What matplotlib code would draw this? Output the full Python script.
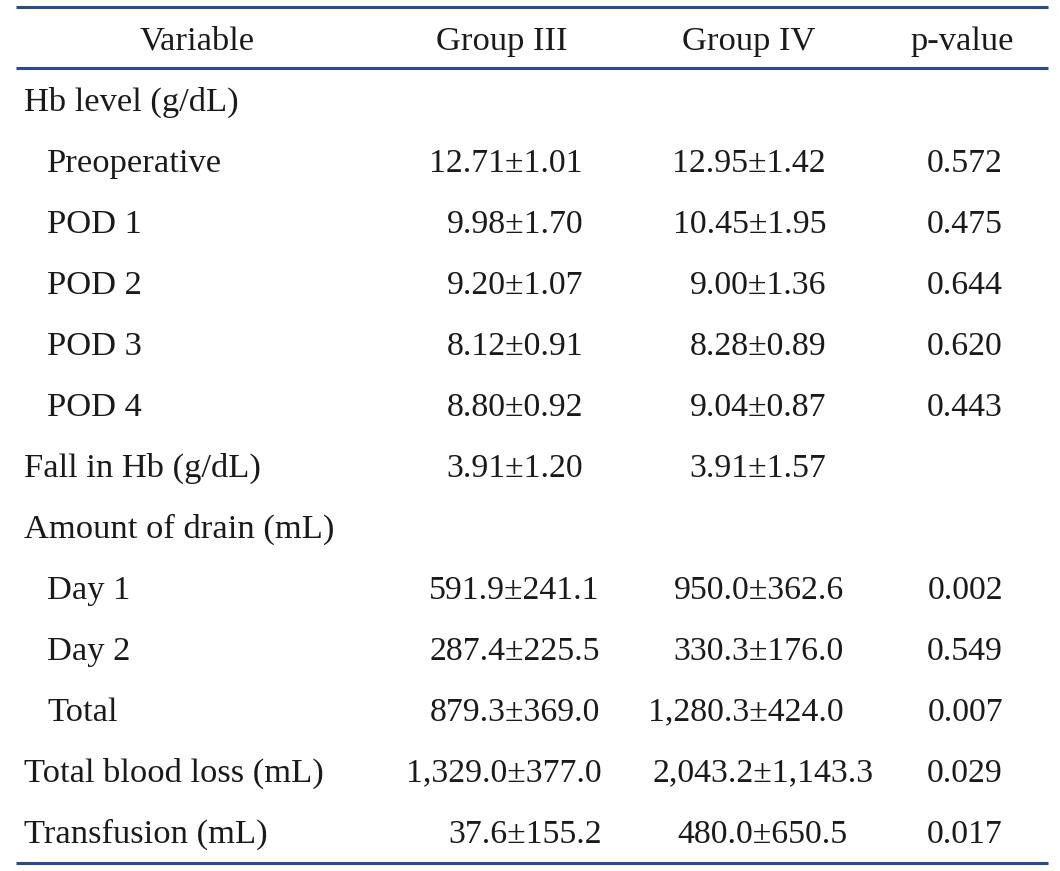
#!/usr/bin/env python3
"""
Hb level / blood loss comparison table, Group III vs Group IV -> out.png
"""
import matplotlib.pyplot as plt

HEADERS = ["Variable", "Group III", "Group IV", "p-value"]

labels = [
    "Hb level (g/dL)", "Preoperative", "POD 1", "POD 2", "POD 3", "POD 4",
    "Fall in Hb (g/dL)", "Amount of drain (mL)", "Day 1", "Day 2", "Total",
    "Total blood loss (mL)", "Transfusion (mL)",
]
indented = [False, True, True, True, True, True,
            False, False, True, True, True, False, False]

group3 = ["", "12.71±1.01", "9.98±1.70", "9.20±1.07", "8.12±0.91", "8.80±0.92",
          "3.91±1.20", "", "591.9±241.1", "287.4±225.5", "879.3±369.0",
          "1,329.0±377.0", "37.6±155.2"]
group4 = ["", "12.95±1.42", "10.45±1.95", "9.00±1.36", "8.28±0.89", "9.04±0.87",
          "3.91±1.57", "", "950.0±362.6", "330.3±176.0", "1,280.3±424.0",
          "2,043.2±1,143.3", "480.0±650.5"]
pvalues = ["", "0.572", "0.475", "0.644", "0.620", "0.443",
           "", "", "0.002", "0.549", "0.007", "0.029", "0.017"]

# layout (pixels on a 1060x871 canvas)
W, H = 1060, 871
LINE_COLOR = "#2d4a8c"
FONT = "Liberation Serif"
FS = 24.8
NUM_FS = 24.3
TXT = "#1a1a1a"
ROW0, STEP = 102.5, 61.0
# right edges of value columns, per row (typeset alignment in the original)
g3_right = [0, 583, 583, 583, 583, 583, 583, 0, 599, 600, 600, 602, 602]
g4_right = [0, 826, 826, 826, 826, 826, 826, 0, 844, 844, 844, 874, 847]
P_RIGHT = 1003

fig = plt.figure(figsize=(W / 100, H / 100), dpi=100)
ax = fig.add_axes([0, 0, 1, 1])
ax.set_xlim(0, W)
ax.set_ylim(H, 0)
ax.axis("off")

for y in (7, 68, 863):
    ax.plot([16, 1048], [y, y], color=LINE_COLOR, lw=2.2, solid_capstyle="butt")

for x, h in zip([197, 502, 749, 962], HEADERS):
    ax.text(x, 41.5, h, ha="center", va="center", fontsize=FS, family=FONT, color=TXT)

for i, lab in enumerate(labels):
    y = ROW0 + i * STEP
    ax.text(47 if indented[i] else 24, y, lab, ha="left", va="center",
            fontsize=FS, family=FONT, color=TXT)
    if group3[i]:
        ax.text(g3_right[i], y, group3[i], ha="right", va="center",
                fontsize=NUM_FS, family=FONT, color=TXT)
    if group4[i]:
        ax.text(g4_right[i], y, group4[i], ha="right", va="center",
                fontsize=NUM_FS, family=FONT, color=TXT)
    if pvalues[i]:
        ax.text(P_RIGHT, y, pvalues[i], ha="right", va="center",
                fontsize=NUM_FS, family=FONT, color=TXT)

fig.savefig("out.png", dpi=100)
print("Saved out.png")
